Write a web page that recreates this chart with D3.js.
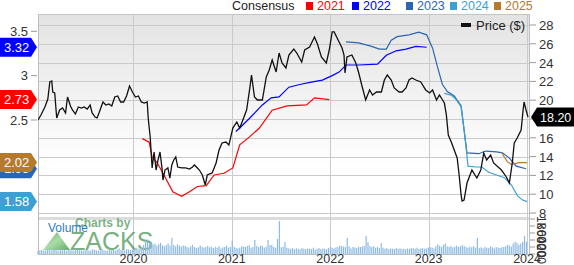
<!DOCTYPE html>
<html><head><meta charset="utf-8">
<script src="https://cdn.jsdelivr.net/npm/d3@7"></script>
<style>body{margin:0;background:#fff}svg{display:block;font-family:"Liberation Sans",Arial,sans-serif}</style>
</head><body><svg id="c" width="574" height="265"></svg>
<script>
// ---------- DATA ----------
const yearTicks = [2020, 2021, 2022, 2023, 2024];
const priceTicks = [8, 10, 12, 14, 16, 18, 20, 22, 24, 26, 28];
const epsTicks = [2.5, 3, 3.5];
const volumeTicks = [0, 200, 400, 600, 800, 1000];
const volumeTickLabels = ["0", "200", "400", "600", "800", "1k"];
const legendYears = ["2021", "2022", "2023", "2024", "2025"];
const legendColors = ["#ff0000", "#0000ff", "#2a66b4", "#3d9fd4", "#b57a2c"];
const lastPriceLabel = "18.20";

const priceDates = [
2019.03,2019.06,2019.10,2019.13,2019.15,2019.17,2019.18,2019.20,2019.22,2019.25,
2019.28,2019.31,2019.33,2019.36,2019.38,2019.41,2019.44,2019.47,2019.50,2019.53,
2019.56,2019.58,2019.61,2019.63,2019.65,2019.69,2019.72,2019.75,2019.78,2019.81,
2019.84,2019.87,2019.90,2019.93,2019.96,2019.99,2020.02,2020.05,2020.08,2020.11,
2020.14,2020.15,2020.17,2020.19,2020.21,2020.23,2020.25,2020.27,2020.29,2020.30,
2020.32,2020.35,2020.37,2020.39,2020.41,2020.43,2020.45,2020.49,2020.53,2020.57,
2020.60,2020.62,2020.65,2020.67,2020.70,2020.73,2020.75,2020.80,2020.84,2020.87,
2020.90,2020.94,2020.97,2021.01,2021.05,2021.08,2021.12,2021.15,2021.18,2021.20,
2021.23,2021.26,2021.31,2021.35,2021.38,2021.41,2021.45,2021.48,2021.51,2021.55,
2021.58,2021.63,2021.66,2021.71,2021.74,2021.79,2021.84,2021.87,2021.91,2021.96,
2021.99,2022.02,2022.04,2022.07,2022.12,2022.14,2022.15,2022.17,2022.22,2022.26,
2022.29,2022.32,2022.36,2022.40,2022.43,2022.47,2022.52,2022.55,2022.58,2022.62,
2022.65,2022.70,2022.73,2022.77,2022.80,2022.83,2022.87,2022.92,2022.97,2023.01,
2023.04,2023.08,2023.11,2023.16,2023.18,2023.20,2023.23,2023.26,2023.29,2023.31,
2023.33,2023.34,2023.36,2023.39,2023.44,2023.49,2023.53,2023.56,2023.59,2023.63,
2023.66,2023.74,2023.79,2023.82,2023.85,2023.87,2023.90,2023.94,2023.96,2023.97,
2023.99,2024.01];
const priceValues = [
17.89,18.43,19.28,20.13,21.94,22.04,20.87,20.77,18.11,18.96,
19.17,18.64,20.34,19.38,18.96,18.53,19.28,19.17,19.28,19.06,
19.49,18.64,18.21,18.11,18.64,19.81,19.49,19.60,19.38,20.34,
20.45,19.81,19.81,20.45,21.51,20.87,20.34,20.45,19.81,19.70,
19.81,18.11,16.09,12.79,14.49,12.57,13.64,14.49,12.79,11.51,
12.57,12.79,11.72,13.11,13.64,13.96,12.89,12.79,12.79,12.68,
12.89,13.11,12.79,12.57,12.04,10.98,12.04,12.26,13.32,14.70,
15.45,15.55,15.23,17.04,17.68,17.04,18.11,18.96,21.09,22.68,
20.34,20.02,20.02,22.47,23.21,24.28,23.00,25.02,23.96,23.43,
24.81,25.45,25.02,24.06,25.34,25.66,26.72,25.98,24.60,23.96,
25.34,27.26,27.26,26.62,25.55,24.81,22.89,24.60,24.81,23.96,
22.89,21.62,20.02,21.09,20.55,20.87,20.87,22.15,22.68,22.15,
21.30,20.87,20.87,21.30,22.15,22.36,22.15,21.94,21.09,20.77,
21.09,20.02,20.55,19.70,18.43,16.30,15.55,14.70,13.85,12.04,
9.91,9.28,9.38,11.19,12.57,11.72,12.57,14.38,13.64,14.17,
13.32,12.57,11.83,11.19,13.32,15.45,15.98,16.83,18.96,19.81,
18.96,18.20];

const eps2021Dates = [2020.09,2020.16,2020.19,2020.24,2020.31,2020.40,2020.49,2020.57,2020.65,2020.74,2020.82,2020.92,2021.01,2021.08,2021.18,2021.28,2021.41,2021.56,2021.76,2021.84,2021.99];
const eps2021Values = [2.29,2.25,2.08,2.02,1.88,1.69,1.64,1.69,1.75,1.76,1.88,1.90,1.96,2.22,2.31,2.41,2.61,2.66,2.67,2.75,2.73];
const eps2022Dates = [2021.04,2021.08,2021.18,2021.31,2021.40,2021.48,2021.58,2021.69,2021.82,2021.92,2022.02,2022.09,2022.16,2022.29,2022.48,2022.57,2022.67,2022.77,2022.87,2022.98];
const eps2022Values = [2.37,2.41,2.52,2.67,2.75,2.76,2.87,2.90,2.93,2.95,3.00,3.04,3.12,3.12,3.13,3.23,3.28,3.30,3.33,3.32];
const eps2023Dates = [2022.16,2022.29,2022.42,2022.50,2022.57,2022.62,2022.68,2022.80,2022.90,2022.98,2023.04,2023.09,2023.14,2023.19,2023.26,2023.33,2023.36,2023.39,2023.51,2023.58,2023.69,2023.75,2023.82,2023.89,2023.99];
const eps2023Values = [3.38,3.37,3.33,3.30,3.30,3.40,3.44,3.46,3.49,3.46,3.31,3.10,2.90,2.82,2.77,2.66,2.39,2.13,2.12,2.15,2.14,2.13,2.07,1.98,1.95];
const eps2024Dates = [2023.16,2023.23,2023.28,2023.33,2023.36,2023.38,2023.40,2023.48,2023.54,2023.61,2023.69,2023.77,2023.84,2023.90,2023.95,2024.00];
const eps2024Values = [2.80,2.78,2.73,2.65,2.39,2.20,1.98,1.97,1.97,1.91,1.88,1.85,1.77,1.65,1.60,1.58];
const eps2025Dates = [2023.74,2023.77,2023.80,2023.84,2023.92,2024.00];
const eps2025Values = [2.14,2.08,2.03,2.00,2.02,2.02];

const volumeStart = 2019.03;
const volumeValues = [
90,110,120,100,95,130,115,100,140,120,105,95,110,
100,120,90,110,130,100,95,150,120,105,100,90,115,
110,95,100,140,120,100,90,105,130,110,95,100,120,
105,115,100,130,160,120,110,100,140,125,110,130,150,
180,160,140,200,260,380,420,300,350,260,300,240,280,
320,250,220,260,300,240,460,260,220,280,240,210,250,
230,200,180,220,260,200,170,190,240,210,180,200,230,
190,210,170,200,180,220,160,190,200,240,180,200,380,
200,170,160,180,220,210,200,230,250,180,200,400,230,
200,240,230,180,210,400,250,260,200,180,430,940,190,
210,340,180,160,150,170,140,160,150,130,170,150,140,
160,150,140,180,130,150,170,140,160,150,130,170,200,
180,160,190,200,240,230,210,200,460,220,160,200,190,
170,210,200,220,230,510,340,230,200,220,180,200,170,
310,180,150,170,140,160,150,140,170,150,160,140,150,
140,160,150,170,160,150,180,140,160,170,150,160,180,
200,180,160,220,280,240,200,260,300,220,200,230,190,
210,240,200,220,250,230,200,180,210,190,220,180,460,
170,190,160,200,180,170,220,190,160,200,180,170,190,
200,220,260,240,210,300,350,320,260,300,350,518,350];

// ---------- LAYOUT ----------
const L = 38, R = 529, T = 14, PB = 217, VT = 219, VB = 254;
const svg = d3.select("#c");
const x = d3.scaleLinear().domain([2019.03, 2024.02]).range([L, R]);
const yP = d3.scaleLinear().domain([8, 28]).range([213, 25]);
const yE = d3.scaleLinear().domain([1.5, 3.5]).range([208.7, 31.3]);
const yV = d3.scaleLinear().domain([0, 1000]).range([VB, VT]);

const defs = svg.append("defs");
const grad = defs.append("linearGradient").attr("id", "bg").attr("x1", 0).attr("y1", 0).attr("x2", 0).attr("y2", 1);
grad.append("stop").attr("offset", "0%").attr("stop-color", "#e3e3e3");
grad.append("stop").attr("offset", "75%").attr("stop-color", "#ffffff");
defs.append("clipPath").attr("id", "clipP").append("rect").attr("x", L).attr("y", T).attr("width", R - L).attr("height", PB - T);
const zg = defs.append("linearGradient").attr("id", "zg").attr("x1", 0).attr("y1", 0).attr("x2", 1).attr("y2", 1);
zg.append("stop").attr("offset", "0%").attr("stop-color", "#2f8f3a");
zg.append("stop").attr("offset", "50%").attr("stop-color", "#8fd08a");
zg.append("stop").attr("offset", "100%").attr("stop-color", "#2f8f3a");

// backgrounds
svg.append("rect").attr("x", L).attr("y", T).attr("width", R - L).attr("height", PB - T).attr("fill", "url(#bg)");
svg.append("rect").attr("x", L).attr("y", PB).attr("width", R - L).attr("height", 3).attr("fill", "#dcdcdc");

// grid
svg.append("g").selectAll("line").data(priceTicks).join("line")
  .attr("x1", L).attr("x2", R).attr("y1", d => Math.round(yP(d)) + 0.5).attr("y2", d => Math.round(yP(d)) + 0.5)
  .attr("stroke", "#cacaca").attr("stroke-width", 1);
svg.append("g").selectAll("line").data(yearTicks).join("line")
  .attr("x1", d => Math.round(x(d)) + 0.5).attr("x2", d => Math.round(x(d)) + 0.5).attr("y1", T).attr("y2", VB)
  .attr("stroke", "#cacaca").attr("stroke-width", 1);
svg.append("line").attr("x1", L).attr("x2", R).attr("y1", T + 0.5).attr("y2", T + 0.5).attr("stroke", "#c4c4c4");
svg.append("line").attr("x1", L + 0.5).attr("x2", L + 0.5).attr("y1", T).attr("y2", VB).attr("stroke", "#bdbdbd");
svg.append("line").attr("x1", R + 0.5).attr("x2", R + 0.5).attr("y1", T).attr("y2", VB).attr("stroke", "#bdbdbd");
svg.append("line").attr("x1", L).attr("x2", R).attr("y1", VB + 0.5).attr("y2", VB + 0.5).attr("stroke", "#bdbdbd");

// watermark
const wm = svg.append("g");
wm.append("path").attr("d", `M43,250 L57,232 L70,250 Z`).attr("fill", "url(#zg)").attr("opacity", 0.75);
wm.append("text").attr("x", 75).attr("y", 227).attr("font-size", 12).attr("font-weight", "bold").attr("fill", "#4f9a5c").attr("opacity", 0.75).text("Charts by");
wm.append("text").attr("x", 70).attr("y", 250).attr("font-size", 25).attr("fill", "#3f8f4c").attr("opacity", 0.7).text("ZACKS");

// volume bars
const step = 1 / 52.18;
svg.append("g").selectAll("rect").data(volumeValues).join("rect")
  .attr("x", (d, i) => x(volumeStart + i * step) - 0.6).attr("width", 1.2)
  .attr("y", d => yV(d)).attr("height", d => VB - yV(d)).attr("fill", "#8fbbe2");
svg.append("text").attr("x", 48).attr("y", 232).attr("font-size", 12).attr("fill", "#2c7cc6").text("Volume");

// lines
const plot = svg.append("g").attr("clip-path", "url(#clipP)");
const lineE = d3.line().x(d => x(d[0])).y(d => yE(d[1]));
const epsSeries = [
  [eps2021Dates, eps2021Values, legendColors[0]],
  [eps2022Dates, eps2022Values, legendColors[1]],
  [eps2023Dates, eps2023Values, legendColors[2]],
  [eps2024Dates, eps2024Values, legendColors[3]],
  [eps2025Dates, eps2025Values, legendColors[4]]
];
epsSeries.forEach(([ds, vs, c]) => {
  plot.append("path").attr("d", lineE(d3.zip(ds, vs))).attr("fill", "none").attr("stroke", c).attr("stroke-width", 1.2);
});
const lineP = d3.line().x(d => x(d[0])).y(d => yP(d[1]));
plot.append("path").attr("d", lineP(d3.zip(priceDates, priceValues))).attr("fill", "none").attr("stroke", "#111").attr("stroke-width", 1.3);

// left axis
const la = svg.append("g");
la.selectAll("line").data(epsTicks).join("line").attr("x1", 31).attr("x2", 37).attr("y1", d => yE(d)).attr("y2", d => yE(d)).attr("stroke", "#999");
la.selectAll("text").data(epsTicks).join("text").attr("x", 28).attr("y", d => yE(d) + 4.5).attr("text-anchor", "end")
  .attr("font-size", 13).attr("fill", "#333").text(d => d);

// right axis
const ra = svg.append("g");
ra.selectAll("line").data(priceTicks).join("line").attr("x1", 530).attr("x2", 536).attr("y1", d => yP(d)).attr("y2", d => yP(d)).attr("stroke", "#999");
ra.selectAll("text").data(priceTicks).join("text").attr("x", 539).attr("y", d => yP(d) + 5).attr("font-size", 13).attr("fill", "#333").text(d => d);

// volume axis
const va = svg.append("g");
va.selectAll("line").data(volumeTicks).join("line").attr("x1", 530).attr("x2", 535).attr("y1", d => yV(d)).attr("y2", d => yV(d)).attr("stroke", "#999");
va.selectAll("text").data(volumeTicks).join("text")
  .attr("transform", d => `translate(537,${yV(d) - 3}) rotate(90)`)
  .attr("font-size", 12).attr("fill", "#333").text((d, i) => volumeTickLabels[i]);

// x axis labels
svg.append("g").selectAll("text").data(yearTicks).join("text").attr("x", d => x(d)).attr("y", 263)
  .attr("text-anchor", "middle").attr("font-size", 12.5).attr("fill", "#333").text(d => d);

// left badges (last consensus value of each year)
const badgeOrder = [2, 4, 3, 0, 1];
const badges = svg.append("g");
badgeOrder.forEach(i => {
  const [ds, vs, c] = epsSeries[i];
  const v = vs[vs.length - 1];
  const cy = yE(v);
  badges.append("path").attr("d", `M0,${cy - 9.5} L31,${cy - 9.5} L37,${cy} L31,${cy + 9.5} L0,${cy + 9.5} Z`).attr("fill", c);
  badges.append("text").attr("x", 4).attr("y", cy + 4.5).attr("font-size", 13).attr("fill", "#fff").text(v.toFixed(2));
});

// price badge
const pv = priceValues[priceValues.length - 1];
const py = yP(pv);
svg.append("path").attr("d", `M531,${py} L537,${py - 9.5} L574,${py - 9.5} L574,${py + 9.5} L537,${py + 9.5} Z`).attr("fill", "#000");
svg.append("text").attr("x", 540).attr("y", py + 4.5).attr("font-size", 12.5).attr("fill", "#fff").text(lastPriceLabel);

// top legend
const lg = svg.append("g");
lg.append("text").attr("x", 232).attr("y", 10).attr("font-size", 12.5).attr("fill", "#222").text("Consensus");
const legX = [306, 352, 406, 450, 494];
legendYears.forEach((yr, i) => {
  lg.append("rect").attr("x", legX[i]).attr("y", 2).attr("width", 7).attr("height", 8).attr("fill", legendColors[i]);
  lg.append("text").attr("x", legX[i] + 11).attr("y", 10).attr("font-size", 12.5).attr("fill", legendColors[i]).text(yr);
});
// price legend
svg.append("rect").attr("x", 461).attr("y", 23).attr("width", 10).attr("height", 4).attr("fill", "#111");
svg.append("text").attr("x", 476).attr("y", 30).attr("font-size", 13).attr("fill", "#222").text("Price ($)");
</script></body></html>
